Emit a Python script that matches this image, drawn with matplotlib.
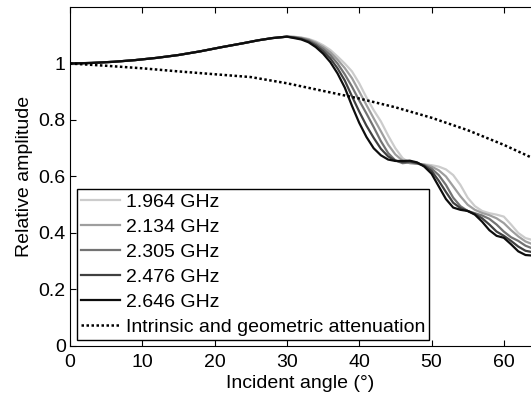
import matplotlib.pyplot as plt

plt.rcParams['font.family'] = ['Liberation Sans', 'DejaVu Sans']

# incident angle grid (degrees)
angle = [0, 3, 6, 9, 12, 15, 18, 21, 24, 26, 28, 30] + list(range(31, 65))

early = [1.0, 1.002, 1.006, 1.012, 1.02, 1.03, 1.043, 1.058, 1.072, 1.082, 1.09, 1.095]

f1964 = early + [1.095, 1.092, 1.087, 1.078, 1.065, 1.048, 1.025, 1.0, 0.972, 0.93,
                 0.88, 0.835, 0.795, 0.745, 0.70, 0.665, 0.648, 0.645, 0.643, 0.64,
                 0.635, 0.625, 0.605, 0.57, 0.525, 0.495, 0.478, 0.47, 0.465, 0.458,
                 0.43, 0.40, 0.382, 0.375]
f2134 = early + [1.094, 1.091, 1.085, 1.074, 1.059, 1.040, 1.014, 0.984, 0.948, 0.901,
                 0.853, 0.806, 0.760, 0.713, 0.678, 0.656, 0.647, 0.645, 0.642, 0.635,
                 0.622, 0.600, 0.565, 0.530, 0.500, 0.482, 0.471, 0.463, 0.452, 0.435,
                 0.41, 0.388, 0.37, 0.36]
f2305 = early + [1.093, 1.089, 1.082, 1.069, 1.052, 1.030, 1.000, 0.962, 0.918, 0.869,
                 0.823, 0.775, 0.725, 0.683, 0.657, 0.647, 0.65, 0.646, 0.640, 0.628,
                 0.605, 0.57, 0.525, 0.495, 0.478, 0.47, 0.462, 0.45, 0.43, 0.405,
                 0.385, 0.372, 0.355, 0.345]
f2476 = early + [1.092, 1.087, 1.078, 1.064, 1.044, 1.018, 0.983, 0.94, 0.884, 0.83,
                 0.78, 0.737, 0.698, 0.671, 0.656, 0.651, 0.653, 0.648, 0.638, 0.62,
                 0.585, 0.545, 0.507, 0.488, 0.478, 0.467, 0.452, 0.43, 0.405, 0.39,
                 0.372, 0.352, 0.337, 0.332]
f2646 = early + [1.09, 1.085, 1.075, 1.058, 1.035, 1.005, 0.965, 0.915, 0.85, 0.79,
                 0.74, 0.70, 0.675, 0.66, 0.655, 0.655, 0.656, 0.65, 0.635, 0.61,
                 0.565, 0.52, 0.49, 0.482, 0.478, 0.465, 0.44, 0.41, 0.39, 0.383,
                 0.36, 0.335, 0.322, 0.32]

att_angle = [0, 5, 10, 15, 20, 25, 30, 35, 40, 45, 50, 55, 60, 64]
attenuation = [1.0, 0.992, 0.983, 0.972, 0.962, 0.952, 0.93, 0.903, 0.876, 0.845,
               0.808, 0.764, 0.712, 0.665]

labels = ['1.964 GHz', '2.134 GHz', '2.305 GHz', '2.476 GHz', '2.646 GHz']
series = [f1964, f2134, f2305, f2476, f2646]
greys = ['0.8', '0.62', '0.45', '0.25', '0.05']

fig = plt.figure(figsize=(5.31, 3.98), dpi=100)
ax = fig.add_axes([0.1318, 0.1307, 0.8682, 0.8517])

for y, lab, c in zip(series, labels, greys):
    ax.plot(angle, y, color=c, lw=1.6, label=lab)
ax.plot(att_angle, attenuation, color='black', lw=1.8, linestyle=(0, (1, 1)),
        label='Intrinsic and geometric attenuation')

ax.set_xlim(0, 63.76)
ax.set_ylim(0, 1.2)
ax.set_xticks([0, 10, 20, 30, 40, 50, 60])
ax.set_yticks([0, 0.2, 0.4, 0.6, 0.8, 1])
ax.set_yticklabels(['0', '0.2', '0.4', '0.6', '0.8', '1'])
ax.spines['right'].set_visible(False)
ax.tick_params(direction='in', top=True, right=False, length=4, labelsize=14)
ax.tick_params(axis='x', pad=6)
ax.tick_params(axis='y', pad=3)
ax.set_xlabel('Incident angle (°)', fontsize=14, labelpad=3)
ax.set_ylabel('Relative amplitude', fontsize=14, labelpad=4)

leg = ax.legend(loc='lower left', bbox_to_anchor=(0.015, 0.018), borderaxespad=0,
                fontsize=14, handlelength=2.0, handletextpad=0.3, labelspacing=0.38,
                fancybox=False, framealpha=1, borderpad=0.2)
leg.get_frame().set_edgecolor('black')
leg.get_frame().set_linewidth(1.0)

fig.savefig('out.png', dpi=100)
